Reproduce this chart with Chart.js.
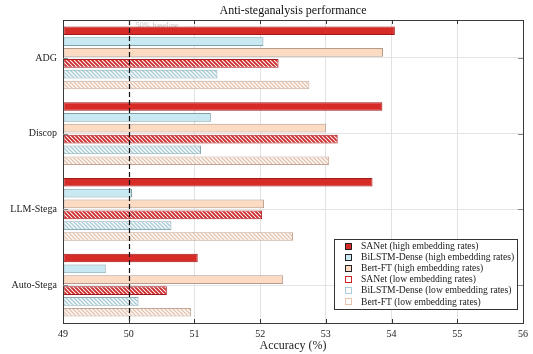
<!DOCTYPE html>
<html>
<head>
<meta charset="utf-8">
<title>Anti-steganalysis performance</title>
<script src="https://cdn.jsdelivr.net/npm/chart.js@4.4.0/dist/chart.umd.min.js"></script>
<style>
  html, body { margin: 0; padding: 0; background: #fff; }
  #wrap { width: 533px; height: 354px; }
</style>
</head>
<body>
<div id="wrap"><canvas id="chart" width="533" height="354"></canvas></div>
<script>
// Data
const categories = ['ADG', 'Discop', 'LLM-Stega', 'Auto-Stega'];
const sanetHigh  = [54.05, 53.86, 53.71, 51.05];
const bilstmHigh = [52.05, 51.25, 50.05, 49.65];
const bertHigh   = [53.87, 53.00, 52.06, 52.35];
const sanetLow   = [52.28, 53.18, 52.03, 50.58];
const bilstmLow  = [51.35, 51.10, 50.65, 50.15];
const bertLow    = [52.75, 53.05, 52.50, 50.95];
const seriesNames = [
    'SANet (high embedding rates)',
    'BiLSTM-Dense (high embedding rates)',
    'Bert-FT (high embedding rates)',
    'SANet (low embedding rates)',
    'BiLSTM-Dense (low embedding rates)',
    'Bert-FT (low embedding rates)'
];
const xTicks = [49, 50, 51, 52, 53, 54, 55, 56];
const baselineValue = 50;

const SERIF = '"Liberation Serif", "Times New Roman", serif';

// Diagonal hatch pattern ("\\\\" direction) on white
function hatch(color, width) {
    const s = 4;
    const c = document.createElement('canvas');
    c.width = s; c.height = s;
    const g = c.getContext('2d');
    g.fillStyle = '#fff';
    g.fillRect(0, 0, s, s);
    g.strokeStyle = color;
    g.lineWidth = width;
    g.beginPath();
    g.moveTo(-1, -1); g.lineTo(s + 1, s + 1);
    g.moveTo(s - 1, -1); g.lineTo(s + 1, 1);
    g.moveTo(-1, s - 1); g.lineTo(1, s + 1);
    g.stroke();
    return g.createPattern(c, 'repeat');
}

const styles = [
    { fill: '#D72B27', border: '#A0191B', low: false },
    { fill: '#C9E9F2', border: '#7F9FA9', low: false },
    { fill: '#FCDBC2', border: '#B39A8B', low: false },
    { fill: hatch('#CC2A2B', 1.9), border: '#A8191D', low: true, mark: '#C8262A' },
    { fill: hatch('#A8CDD8', 1.5), border: '#8AABB4', low: true, mark: '#A8CDD8' },
    { fill: hatch('#E6C3AD', 1.5), border: '#C2A796', low: true, mark: '#E6C3AD' }
];
const seriesValues = [sanetHigh, bilstmHigh, bertHigh, sanetLow, bilstmLow, bertLow];

const datasets = seriesValues.map((vals, i) => ({
    label: seriesNames[i],
    data: vals,
    base: 49,
    backgroundColor: styles[i].fill,
    borderColor: styles[i].border,
    borderWidth: 1,
    borderSkipped: false,
    categoryPercentage: 0.86,
    barPercentage: 0.8
}));

// Frame, inward ticks, baseline, title and legend (MATLAB-like look)
const decorations = {
    id: 'decorations',
    beforeDatasetsDraw(chart) {
        const { ctx, chartArea: a, scales: { x } } = chart;
        ctx.save();
        ctx.font = '8px ' + SERIF;
        ctx.fillStyle = '#c4c4c4';
        ctx.textBaseline = 'top';
        ctx.fillText('50% baseline', x.getPixelForValue(baselineValue) + 7, a.top + 2);
        ctx.restore();
    },
    afterDatasetsDraw(chart) {
        const { ctx, chartArea: a, scales: { x } } = chart;
        const bx = Math.round(x.getPixelForValue(baselineValue)) + 0.5;
        ctx.save();
        ctx.strokeStyle = '#111';
        ctx.lineWidth = 1.2;
        ctx.setLineDash([5, 3]);
        ctx.beginPath();
        ctx.moveTo(bx, a.top);
        ctx.lineTo(bx, a.bottom);
        ctx.stroke();
        ctx.restore();
    },
    afterDraw(chart) {
        const { ctx, chartArea: a, scales: { x, y } } = chart;
        ctx.save();

        // box
        ctx.strokeStyle = '#3a3a3a';
        ctx.lineWidth = 1;
        ctx.strokeRect(Math.round(a.left) + 0.5, Math.round(a.top) + 0.5,
            Math.round(a.right - a.left), Math.round(a.bottom - a.top));

        // inward ticks on x (top and bottom)
        ctx.strokeStyle = '#333';
        xTicks.forEach(v => {
            const px = Math.round(x.getPixelForValue(v)) + 0.5;
            ctx.beginPath();
            ctx.moveTo(px, a.bottom); ctx.lineTo(px, a.bottom - 4);
            ctx.moveTo(px, a.top); ctx.lineTo(px, a.top + 4);
            ctx.stroke();
        });
        // inward ticks on y (left and right)
        ctx.strokeStyle = '#888';
        ctx.lineWidth = 1.2;
        categories.forEach((c, i) => {
            const py = Math.round(y.getPixelForValue(i)) + 0.5;
            ctx.beginPath();
            ctx.moveTo(a.left, py); ctx.lineTo(a.left + 5, py);
            ctx.moveTo(a.right, py); ctx.lineTo(a.right - 5, py);
            ctx.stroke();
        });

        // title
        ctx.fillStyle = '#111';
        ctx.font = '12px ' + SERIF;
        ctx.textAlign = 'center';
        ctx.textBaseline = 'middle';
        ctx.fillText('Anti-steganalysis performance', (a.left + a.right) / 2, 11);

        // legend
        const lx = 334, ly = 239, lw = 183, lh = 70;
        ctx.fillStyle = '#fff';
        ctx.fillRect(lx, ly, lw, lh);
        ctx.strokeStyle = '#333';
        ctx.lineWidth = 1;
        ctx.strokeRect(lx + 0.5, ly + 0.5, lw, lh);
        ctx.font = '9.6px ' + SERIF;
        ctx.textAlign = 'left';
        seriesNames.forEach((name, i) => {
            const cy = ly + 7 + i * 11.1;
            const st = styles[i];
            if (st.low) {
                ctx.fillStyle = '#fff';
                ctx.fillRect(345, Math.round(cy - 3.5), 7, 7);
                ctx.strokeStyle = st.mark;
                ctx.strokeRect(345.5, Math.round(cy - 3.5) + 0.5, 6, 6);
            } else {
                ctx.fillStyle = st.fill;
                ctx.fillRect(345, Math.round(cy - 3.5), 7, 7);
                ctx.strokeStyle = '#222';
                ctx.strokeRect(345.5, Math.round(cy - 3.5) + 0.5, 6, 6);
            }
            ctx.fillStyle = '#1a1a1a';
            ctx.fillText(name, 361, cy + 0.5);
        });
        ctx.restore();
    }
};

new Chart(document.getElementById('chart'), {
    type: 'bar',
    data: { labels: categories, datasets: datasets },
    options: {
        indexAxis: 'y',
        responsive: false,
        animation: false,
        devicePixelRatio: 1,
        layout: { padding: { left: 0, right: 5, top: 20, bottom: 0 } },
        plugins: {
            legend: { display: false },
            title: { display: false },
            tooltip: { enabled: false }
        },
        scales: {
            x: {
                type: 'linear',
                min: 49,
                max: 56,
                afterBuildTicks: (scale) => { scale.ticks = xTicks.map(v => ({ value: v })); },
                ticks: {
                    color: '#222',
                    padding: 5,
                    font: { family: SERIF, size: 10 }
                },
                grid: {
                    drawTicks: false,
                    color: (c) => (c.tick && (c.tick.value === baselineValue || c.tick.value === 49 || c.tick.value === 56)) ? 'rgba(0,0,0,0)' : '#e2e2e2',
                    lineWidth: 1
                },
                border: { display: false },
                title: {
                    display: true,
                    text: 'Accuracy (%)',
                    color: '#222',
                    font: { family: SERIF, size: 12 },
                    padding: { top: 0, bottom: 1 }
                },
                afterFit: (scale) => { scale.height = 31; }
            },
            y: {
                type: 'category',
                offset: true,
                ticks: {
                    color: '#222',
                    padding: 6,
                    font: { family: SERIF, size: 10 }
                },
                grid: {
                    offset: false,
                    drawTicks: false,
                    color: '#e4e4e4',
                    lineWidth: 1
                },
                border: { display: false },
                afterFit: (scale) => { scale.width = 63; }
            }
        }
    },
    plugins: [decorations]
});
</script>
</body>
</html>
